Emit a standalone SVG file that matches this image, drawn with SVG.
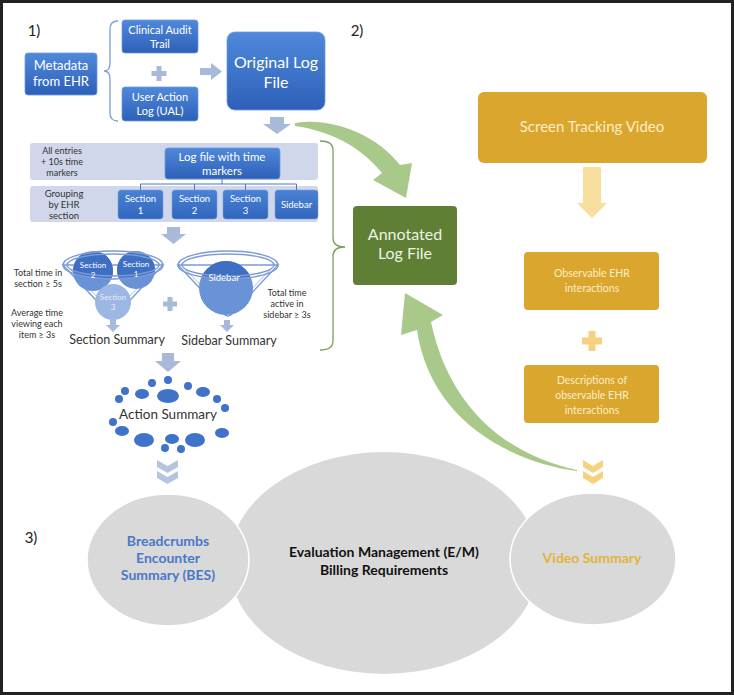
<svg xmlns="http://www.w3.org/2000/svg" width="734" height="695" viewBox="0 0 734 695">
<defs>
<linearGradient id="gb" x1="0" y1="0" x2="0" y2="1"><stop offset="0" stop-color="#4f89da"/><stop offset="1" stop-color="#2d60b8"/></linearGradient>
<linearGradient id="gb2" x1="0" y1="0" x2="0" y2="1"><stop offset="0" stop-color="#4a82d4"/><stop offset="1" stop-color="#3166bd"/></linearGradient>
<clipPath id="rimL"><ellipse cx="113" cy="265" rx="48" ry="13"/></clipPath>
<clipPath id="rimR"><ellipse cx="228" cy="265" rx="48" ry="13"/></clipPath>
<style>
text{font-family:Lato,"Open Sans","Liberation Sans",sans-serif;text-anchor:middle}
.w{fill:#ffffff}
.bx{fill:url(#gb);stroke:#6f9ae0;stroke-width:0.8}
.sb{fill:url(#gb2);stroke:#7aa0e0;stroke-width:0.6}
.panel{fill:#d0d7ea}
.lab{fill:#333333;font-size:9px}
.la{fill:#a9b9da}
.gold{fill:#dba62e}
.gt{fill:#fcedc6}
.dot{fill:#3f72c8}
.cv{fill:#b7c3e2}
.cg{fill:#f7d27c}
.cone{fill:#ffffff;stroke:#7b9ad6;stroke-width:1.4}
.rim{fill:none;stroke:#7b9ad6;stroke-width:1.4}
.big{fill:#d9d9d9}
.gr{fill:#a9c98a}
</style>
</defs>
<rect x="1.5" y="1.5" width="731" height="692" fill="#ffffff" stroke="#222222" stroke-width="3"/>

<g id="labels">
<text x="34" y="36" style="font-size:15px;fill:#222">1)</text>
<text x="357" y="36" style="font-size:15px;fill:#222">2)</text>
<text x="31" y="543" style="font-size:15px;fill:#222">3)</text>
</g>

<g id="metadata">
<rect x="25" y="53" width="72" height="42" rx="3" class="bx"/>
<text x="61" y="70" class="w" style="font-size:13px">Metadata</text>
<text x="61" y="86" class="w" style="font-size:13px">from EHR</text>
</g>

<g id="clinical-audit">
<rect x="122" y="20" width="76" height="33" rx="3" class="bx"/>
<text x="160" y="34" class="w" style="font-size:11px">Clinical Audit</text>
<text x="160" y="48" class="w" style="font-size:11px">Trail</text>
</g>

<g id="ual">
<rect x="122" y="87" width="76" height="34" rx="3" class="bx"/>
<text x="160" y="101" class="w" style="font-size:11px">User Action</text>
<text x="160" y="115" class="w" style="font-size:11px">Log (UAL)</text>
</g>

<g id="original-log">
<rect x="227" y="32" width="98" height="78" rx="8" class="bx"/>
<text x="276" y="68" class="w" style="font-size:16px">Original Log</text>
<text x="276" y="88" class="w" style="font-size:16px">File</text>
</g>

<g id="time-panel">
<rect x="30" y="143" width="288" height="37" rx="3" class="panel"/>
<text x="62" y="154" class="lab">All entries</text>
<text x="62" y="165" class="lab">+ 10s time</text>
<text x="62" y="176" class="lab">markers</text>
</g>
<g id="group-panel">
<rect x="30" y="186" width="288" height="36" rx="3" class="panel"/>
<text x="64" y="197" class="lab" style="font-size:9.5px">Grouping</text>
<text x="64" y="208" class="lab" style="font-size:9.5px">by EHR</text>
<text x="64" y="219" class="lab" style="font-size:9.5px">section</text>
</g>
<g id="log-time">
<rect x="165" y="148" width="115" height="31" rx="3" class="bx"/>
<text x="222" y="161" class="w" style="font-size:11.5px">Log file with time</text>
<text x="222" y="175" class="w" style="font-size:11.5px">markers</text>
</g>
<g id="section1">
<rect x="118" y="190" width="45" height="29" rx="3" class="sb"/>
<text x="140.5" y="202" class="w" style="font-size:9.5px">Section</text>
<text x="140.5" y="214" class="w" style="font-size:9.5px">1</text>
</g>
<g id="section2">
<rect x="172" y="190" width="45" height="29" rx="3" class="sb"/>
<text x="194.5" y="202" class="w" style="font-size:9.5px">Section</text>
<text x="194.5" y="214" class="w" style="font-size:9.5px">2</text>
</g>
<g id="section3">
<rect x="223" y="190" width="45" height="29" rx="3" class="sb"/>
<text x="245.5" y="202" class="w" style="font-size:9.5px">Section</text>
<text x="245.5" y="214" class="w" style="font-size:9.5px">3</text>
</g>
<g id="sidebar">
<rect x="275" y="190" width="43" height="29" rx="3" class="sb"/>
<text x="296.5" y="208" class="w" style="font-size:9.5px">Sidebar</text>
</g>

<g id="funnel-section">
<path d="M63,265 L108,313 Q113,319 118,313 L163,265 Z" class="cone"/>
<path d="M69,268 L109,309 Q113,313 117,309 L157,268" fill="none" stroke="#a9bde6" stroke-width="1"/>
<circle cx="93" cy="271" r="20" fill="#6a92d6"/>
<circle cx="136" cy="270" r="19" fill="#6a92d6"/>
<circle cx="113" cy="302" r="18" fill="#9db7e4"/>
<g clip-path="url(#rimL)">
<circle cx="93" cy="271" r="20" fill="#3f6fc2"/>
<circle cx="136" cy="270" r="19" fill="#3f6fc2"/>
</g>
<ellipse cx="113" cy="265" rx="50" ry="14" class="rim"/>
<ellipse cx="113" cy="265" rx="46" ry="11" class="rim" stroke-width="1"/>
<text x="93" y="268" class="w" style="font-size:8px">Section</text>
<text x="93" y="278" class="w" style="font-size:8px">2</text>
<text x="136" y="267" class="w" style="font-size:8px">Section</text>
<text x="136" y="277" class="w" style="font-size:8px">1</text>
<text x="113" y="300" style="font-size:8px;fill:#e6edf9">Section</text>
<text x="113" y="310" style="font-size:8px;fill:#e6edf9">3</text>
<text x="38" y="276" class="lab">Total time in</text>
<text x="38" y="287" class="lab">section ≥ 5s</text>
<text x="37" y="316" class="lab">Average time</text>
<text x="37" y="327" class="lab">viewing each</text>
<text x="37" y="338" class="lab">item ≥ 3s</text>
<text x="117" y="344" style="font-size:12.5px;fill:#333">Section Summary</text>
</g>

<g id="funnel-sidebar">
<path d="M178,265 L223,313 Q228,319 233,313 L278,265 Z" class="cone"/>
<path d="M184,268 L224,309 Q228,313 232,309 L272,268" fill="none" stroke="#a9bde6" stroke-width="1"/>
<circle cx="226" cy="288" r="27" fill="#6a92d6"/>
<g clip-path="url(#rimR)"><circle cx="226" cy="288" r="27" fill="#3f6fc2"/></g>
<ellipse cx="228" cy="265" rx="50" ry="14" class="rim"/>
<ellipse cx="228" cy="265" rx="46" ry="11" class="rim" stroke-width="1"/>
<text x="224" y="281" class="w" style="font-size:9.5px">Sidebar</text>
<text x="287" y="296" class="lab">Total time</text>
<text x="287" y="307" class="lab">active in</text>
<text x="287" y="318" class="lab">sidebar ≥ 3s</text>
<text x="229" y="345" style="font-size:12.5px;fill:#333">Sidebar Summary</text>
</g>

<g id="action-summary">
<circle cx="168" cy="380" r="4" class="dot"/>
<circle cx="152" cy="383" r="4" class="dot"/>
<circle cx="188" cy="386" r="4" class="dot"/>
<ellipse cx="168" cy="396" rx="11" ry="7" class="dot"/>
<ellipse cx="142" cy="394" rx="7" ry="5" class="dot"/>
<ellipse cx="203" cy="392" rx="7" ry="5" class="dot"/>
<circle cx="125" cy="391" r="4" class="dot"/>
<circle cx="119" cy="399" r="4" class="dot"/>
<circle cx="217" cy="399" r="4" class="dot"/>
<circle cx="225" cy="408" r="4" class="dot"/>
<circle cx="113" cy="422" r="4" class="dot"/>
<ellipse cx="122" cy="431" rx="7" ry="5" class="dot"/>
<ellipse cx="144" cy="440" rx="10" ry="7" class="dot"/>
<ellipse cx="172" cy="439" rx="7" ry="5" class="dot"/>
<ellipse cx="195" cy="440" rx="10" ry="7" class="dot"/>
<ellipse cx="222" cy="433" rx="7" ry="5" class="dot"/>
<circle cx="165" cy="448" r="4" class="dot"/>
<circle cx="181" cy="449" r="4" class="dot"/>
<text x="168" y="419" style="font-size:13.5px;fill:#333">Action Summary</text>
</g>

<g id="annotated-log">
<rect x="353" y="206" width="104" height="79" rx="4" fill="#5e7f34"/>
<text x="405" y="240" style="font-size:16px;fill:#eef2e4">Annotated</text>
<text x="405" y="259" style="font-size:16px;fill:#eef2e4">Log File</text>
</g>

<g id="screen-tracking">
<rect x="478" y="92" width="229" height="71" rx="6" class="gold"/>
<text x="592" y="132" class="gt" style="font-size:15px">Screen Tracking Video</text>
</g>
<g id="observable">
<rect x="524" y="252" width="135" height="58" rx="4" class="gold"/>
<text x="592" y="277" class="gt" style="font-size:10.5px">Observable EHR</text>
<text x="592" y="292" class="gt" style="font-size:10.5px">interactions</text>
</g>
<g id="descriptions">
<rect x="524" y="365" width="135" height="58" rx="4" class="gold"/>
<text x="592" y="384" class="gt" style="font-size:10.5px">Descriptions of</text>
<text x="592" y="399" class="gt" style="font-size:10.5px">observable EHR</text>
<text x="592" y="414" class="gt" style="font-size:10.5px">interactions</text>
</g>

<g id="em">
<ellipse cx="384" cy="563" rx="155" ry="111" class="big"/>
<text x="384" y="557" style="font-size:14px;font-weight:bold;fill:#111">Evaluation Management (E/M)</text>
<text x="384" y="575" style="font-size:14px;font-weight:bold;fill:#111">Billing Requirements</text>
</g>
<g id="bes">
<ellipse cx="168" cy="560" rx="81" ry="66" class="big" stroke="#ffffff" stroke-width="1.5"/>
<text x="168" y="546" style="font-size:14px;font-weight:bold;fill:#4a78c8">Breadcrumbs</text>
<text x="168" y="563" style="font-size:14px;font-weight:bold;fill:#4a78c8">Encounter</text>
<text x="168" y="580" style="font-size:14px;font-weight:bold;fill:#4a78c8">Summary (BES)</text>
</g>
<g id="video-summary">
<ellipse cx="593" cy="559" rx="83" ry="66" class="big" stroke="#ffffff" stroke-width="1.5"/>
<text x="592" y="563" style="font-size:14px;font-weight:bold;fill:#e2b43a">Video Summary</text>
</g>

<g id="connectors">
<path d="M118,21 Q110,21 110,29 L110,63 Q110,71 104,71 Q110,71 110,79 L110,113 Q110,121 118,121" fill="none" stroke="#7d9dd6" stroke-width="1.3"/>
<path d="M159,66 V81 M151.5,73.5 H166.5" stroke="#a9b9da" stroke-width="5"/>
<polygon points="200,68 211,68 211,63 222,71.5 211,80 211,75 200,75" class="la"/>
<polygon points="270,117 284,117 284,124 291,124 277,134 263,124 270,124" class="la"/>
<path d="M222,179 V184 M140.5,184 H296.5 M140.5,184 V190 M194.5,184 V190 M245.5,184 V190 M296.5,184 V190" fill="none" stroke="#4a76c4" stroke-width="1"/>
<polygon points="167,227 180,227 180,234 186,234 173.5,244 161,234 167,234" class="la"/>
<path d="M170,297 V311 M163,304 H177" stroke="#a9b9da" stroke-width="5"/>
<polygon points="110,320 116,320 116,325 120,325 113,332 106,325 110,325" class="la"/>
<polygon points="224,320 230,320 230,325 234,325 227,332 220,325 224,325" class="la"/>
<polygon points="162,353 174,353 174,361 181,361 168,372 155,361 162,361" class="la"/>
<path d="M320,141 Q333,141 333,150 L333,238 Q333,247 345,247 Q333,247 333,256 L333,341 Q333,350 320,350" fill="none" stroke="#7f9f5a" stroke-width="1.3"/>
<path d="M295,123 C330,117 375,133 400,165 L412,163 L406,198 L373,180 L382,173 C360,146 330,131 295,126 Z" class="gr"/>
<path d="M577,470 C520,458 452,420 431,322 L443,315 L405,293 L401,335 L417,330 C430,420 510,462 577,471 Z" class="gr"/>
<polygon points="583,167 601,167 601,203 607,203 592,218 577,203 583,203" fill="#f9df9d"/>
<path d="M592,331 V351 M582,341 H602" stroke="#f6d280" stroke-width="7"/>
<polygon points="157,460 167.5,466 178,460 178,467 167.5,473 157,467" class="cv"/>
<polygon points="157,471 167.5,477 178,471 178,478 167.5,484 157,478" class="cv"/>
<polygon points="583,460 593,466 603,460 603,467 593,473 583,467" class="cg"/>
<polygon points="583,471 593,477 603,471 603,478 593,484 583,478" class="cg"/>
</g>
</svg>
